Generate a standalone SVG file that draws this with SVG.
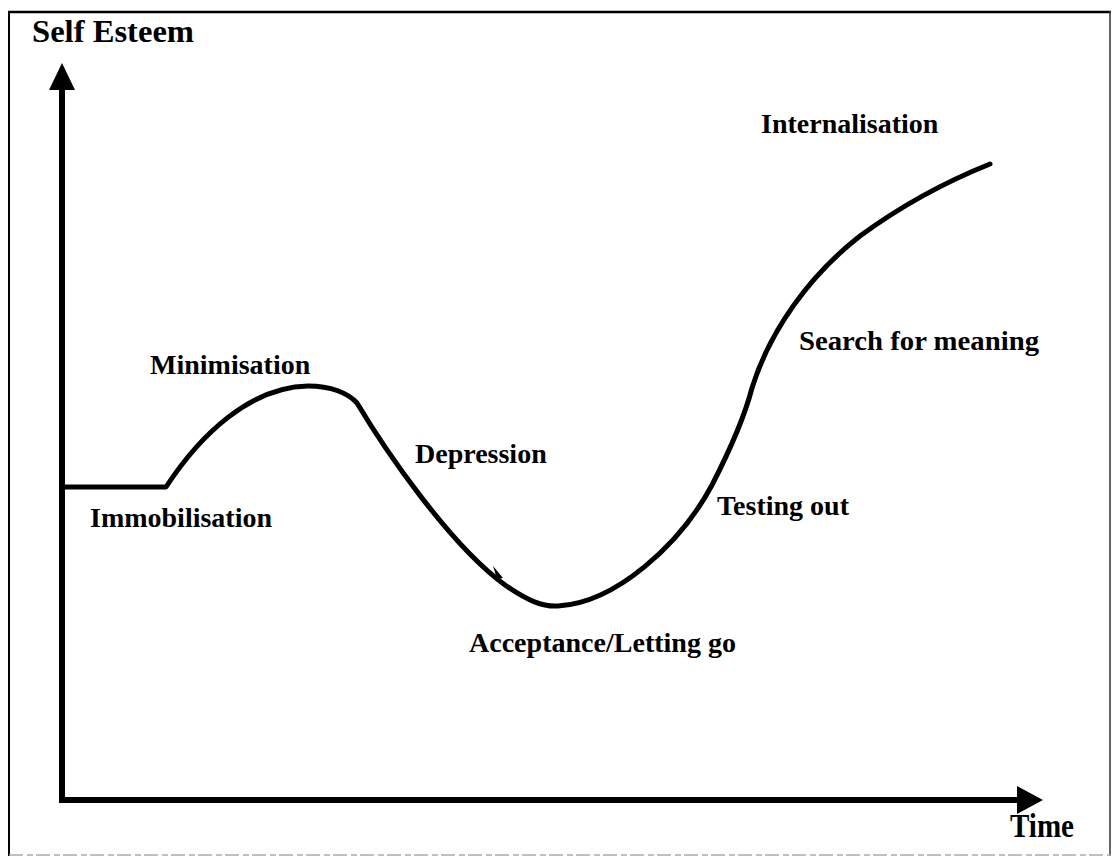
<svg xmlns="http://www.w3.org/2000/svg" width="1112" height="857" viewBox="0 0 1112 857">
<style>
.lbl{font-family:"Liberation Serif","Times New Roman",serif;font-weight:bold;font-size:28px;fill:#000}
.ax{stroke:#000;stroke-width:6;fill:none}
.curve{stroke:#000;stroke-width:5;fill:none;stroke-linejoin:round;stroke-linecap:round}
</style>
<rect width="1112" height="857" fill="#fff"/>
<g id="frame">
<line x1="9" y1="11" x2="9" y2="856" stroke="#000" stroke-width="2"/>
<line x1="8" y1="12" x2="1111" y2="12" stroke="#000" stroke-width="2.5"/>
<line x1="1110" y1="11" x2="1110" y2="856" stroke="#333" stroke-width="1.5"/>
<line x1="9" y1="855" x2="1111" y2="855" stroke="#aaa" stroke-width="1.5" stroke-dasharray="14 4 6 3"/>
</g>
<g id="connectors">
<line class="ax" x1="62" y1="803" x2="62" y2="86"/>
<polygon points="62,63 49,90 75,90" fill="#000"/>
<line class="ax" x1="59" y1="800" x2="1020" y2="800"/>
<polygon points="1043,800 1017,786 1017,814" fill="#000"/>
<path class="curve" d="M62,487 L166,487 C200,435 250,387 308,386 C331,386 348,393 357,403 C385,450 450,545 505,585 C528,601 543,607 558,606 C615,603 680,545 712,485 C730,450 745,415 752,388 C770,330 810,275 860,236 C905,203 950,180 990,164"/>
<polygon points="493,566 503,578 497,579" fill="#000"/>
</g>
<g id="y-axis-label"><text class="lbl" x="32" y="42" style="font-size:32px" textLength="162" lengthAdjust="spacingAndGlyphs">Self Esteem</text></g>
<g id="x-axis-label"><text class="lbl" x="1010" y="837" style="font-size:34px" textLength="64" lengthAdjust="spacingAndGlyphs">Time</text></g>
<g id="immobilisation"><text class="lbl" x="90" y="527">Immobilisation</text></g>
<g id="minimisation"><text class="lbl" x="150" y="374">Minimisation</text></g>
<g id="depression"><text class="lbl" x="415" y="463">Depression</text></g>
<g id="acceptance"><text class="lbl" x="469" y="652" textLength="267" lengthAdjust="spacingAndGlyphs">Acceptance/Letting go</text></g>
<g id="testing-out"><text class="lbl" x="717" y="515">Testing out</text></g>
<g id="search-for-meaning"><text class="lbl" x="799" y="350" textLength="240" lengthAdjust="spacingAndGlyphs">Search for meaning</text></g>
<g id="internalisation"><text class="lbl" x="761" y="133">Internalisation</text></g>
</svg>
